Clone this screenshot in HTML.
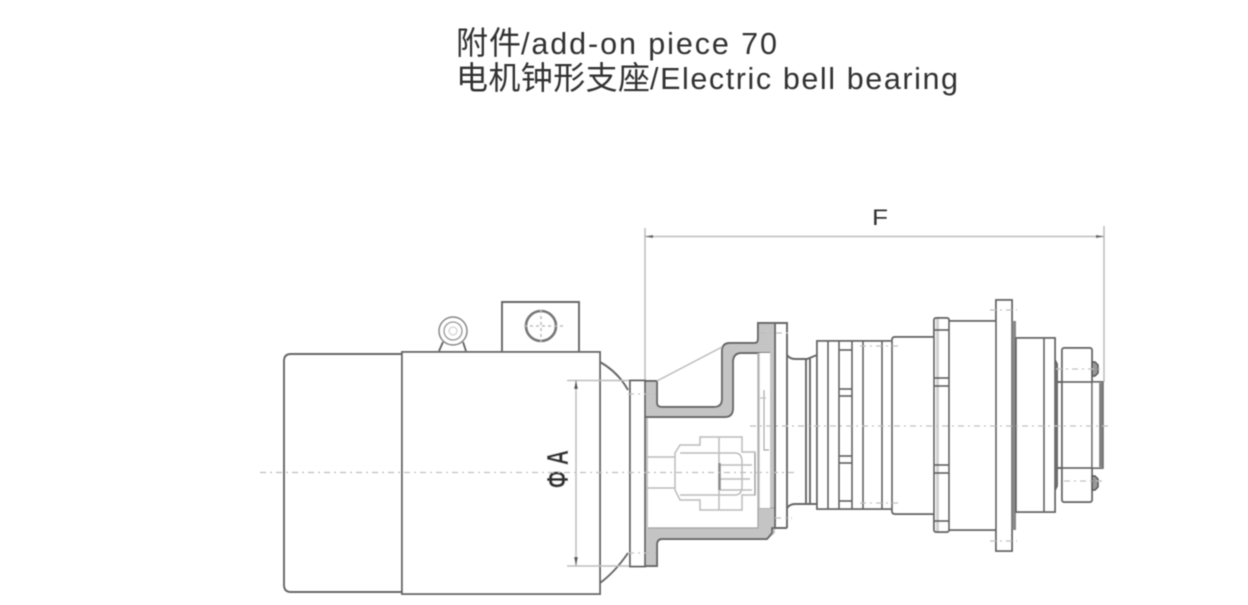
<!DOCTYPE html>
<html><head><meta charset="utf-8"><style>
html,body{margin:0;padding:0;background:#fff;width:1248px;height:605px;overflow:hidden}
svg{display:block}
text{font-family:"Liberation Sans","Noto Sans CJK SC",sans-serif;fill:#303030}
.d{stroke:#666;stroke-width:1.900;fill:none}
.w{stroke:#666;stroke-width:1.900;fill:#fff}
.l{stroke:#bcbcbc;stroke-width:1.500;fill:none}
.m{stroke:#a0a0a0;stroke-width:1.200;fill:none}
.c{stroke:#bdbdbd;stroke-width:1.200;fill:none;stroke-dasharray:6 4 2 4}
.g{fill:#c4c4c4;stroke:none}
</style></head><body>
<svg width="1248" height="605" viewBox="0 0 1248 605" xmlns="http://www.w3.org/2000/svg">
<defs><filter id="b" x="-2%" y="-2%" width="104%" height="104%"><feGaussianBlur stdDeviation="0.55"/></filter></defs>
<rect width="1248" height="605" fill="#fff"/>
<g filter="url(#b)">
<text x="456" y="54" font-size="32" textLength="65">附件</text>
<text x="521" y="54" font-size="30.500" textLength="256">/add-on piece 70</text>
<text x="456" y="89" font-size="32" textLength="194">电机钟形支座</text>
<text x="650" y="89" font-size="30.500" textLength="308">/Electric bell bearing</text>
<text x="872" y="225" font-size="22" textLength="16" lengthAdjust="spacingAndGlyphs">F</text>

<!-- F dimension -->
<path class="l" d="M645 228V381M1104 226V382M645 236.500H1104" stroke-width="1.800"/>
<path d="M645 236.500l8-1.500v3zM1104 236.500l-8-1.500v3z" fill="#666"/>

<!-- motor -->
<path class="d" d="M402 354H291Q284 354 284 361V585Q284 592 291 592H402"/>
<rect class="w" x="402" y="352" width="198" height="242" stroke-width="2.200"/>
<path class="d" d="M600 362Q618 372 628 390M628 553Q615 572 600 583"/>
<path class="l" d="M567 380.500H630M567 566H630M576 380V566"/>
<path d="M576 380l-2 9h4zM576 566l-2-9h4z" fill="#555"/>
<text transform="translate(568,488) rotate(-90)" font-size="31" font-weight="700" textLength="38" lengthAdjust="spacingAndGlyphs">Φ A</text>
<!-- terminal box -->
<path class="d" d="M502 351V302H579V351"/>
<circle cx="541" cy="326" r="15" fill="none" stroke="#777" stroke-width="2.600"/>
<path class="l" d="M524 326H563M541 310V342" stroke-dasharray="3 3" stroke-width="1"/>
<circle cx="453" cy="331" r="14" fill="none" stroke="#888" stroke-width="1.500"/>
<circle cx="453" cy="331" r="9" fill="none" stroke="#999" stroke-width="1.300"/>
<circle cx="453" cy="331" r="4" fill="none" stroke="#c8c8c8" stroke-width="1"/>
<path class="d" d="M439 351L443 342M466 351L463 342"/>

<!-- plate -->
<rect class="w" x="630" y="380.500" width="15" height="186"/>

<!-- bell section -->
<path class="g" d="M645 381H657V403Q657 407 662 407H714Q722 407 722 399V351Q722 343 730 343H757V323H775V533L768 539H658V566H645V528H758V508H770V353H740Q733 353 733 360V408Q733 417 725 417H648V528H645Z"/>
<path class="d" d="M645 381H657V403Q657 407 662 407H714Q722 407 722 399V351Q722 343 730 343H755Q758 343 758 338V323H787V528"/>
<path class="d" d="M645 417H725Q733 417 733 408V362Q733 354 740 353H770"/>
<path class="d" d="M645 566H657V545Q657 539 662 539H767L772 533V528H787"/>
<path class="m" d="M648 528H758V508H775M758 353V508"/>
<path class="d" d="M645 381V566M775 323V528"/>
<path class="l" d="M657 381L722 347"/>
<rect x="759" y="353" width="11" height="155" fill="#fff"/>
<path class="l" d="M759 353V508" stroke-width="2.200"/>
<path class="m" d="M764 390V450H769"/>
<path class="c" d="M628 394H660M628 553H660M760 333H790M760 398H775M775 518H792"/>

<!-- coupling -->
<path class="l" d="M680 445H700V437H742V452H755V495H742V510H700V500H680L675 490V453Z"/>
<path class="l" d="M647 457H675M647 488H675M680 453H735Q742 453 742 462V486Q742 495 735 495H680M719 437V510M720 465H752M720 479H750M720 490H752"/>
<path d="M719.500 463V490" stroke="#8a8a8a" stroke-width="2.500"/>
<path class="m" d="M755 453V495"/>

<!-- neck -->
<path class="d" d="M787 355Q790 359 795 359H807L817 355M787 508Q790 504 795 504H817"/>
<path class="d" d="M806 359V504M810 358V504"/>

<!-- segmented body -->
<rect class="w" x="817" y="341" width="75" height="168"/>
<path class="d" d="M828 341V509M839 341V509M852 341V509M863 341V509M882 341V509"/>
<path class="d" d="M840 350H852M840 389H852M840 396H852M840 456H852M840 463H852M840 501H852"/>
<path class="w" d="M892 340Q892 337 895 337H934V514H895Q892 514 892 511Z"/>
<path class="c" d="M860 346H898M860 503H898"/>
<!-- ring -->
<rect x="934" y="318" width="15" height="214" rx="2" fill="#fff" stroke="#666" stroke-width="1.900"/>
<rect x="936" y="319" width="3" height="212" fill="#d0d0d0"/>
<path class="d" d="M934 330H949M934 378H949M934 386H949M934 465H949M934 473H949M934 521H949"/>
<rect class="w" x="949" y="321" width="47" height="209"/>
<rect class="w" x="996" y="300" width="16" height="251"/>
<rect x="1012" y="321" width="4" height="209" fill="#888"/>
<path class="c" d="M990 310H1017M990 541H1017"/>
<!-- front -->
<rect class="w" x="1016" y="338" width="39" height="174"/>
<path class="d" d="M1044 338V512"/>
<path class="d" d="M1055 360L1057 364V486L1055 490"/>
<path class="d" d="M1057 382H1103M1057 468H1103"/>
<rect class="w" x="1062" y="348" width="30" height="154" rx="2"/>
<path class="d" d="M1062 382H1092M1062 468H1092"/>
<rect x="1092" y="382" width="11" height="86" fill="#fff" stroke="#666" stroke-width="1.500"/>
<rect x="1099" y="383" width="3.500" height="84" fill="#808080"/>
<path d="M1092 362h3l3 3v8l-3 3h-3zM1092 476h3l3 3v8l-3 3h-3z" fill="#999" stroke="#555" stroke-width="1.500"/>
<path class="c" d="M1056 369H1104M1064 481H1104"/>

<!-- centre lines -->
<path class="c" d="M260 472.500H797" stroke-width="1.700"/>
<path class="c" d="M750 426H1111"/>
</g>
</svg>
</body></html>
